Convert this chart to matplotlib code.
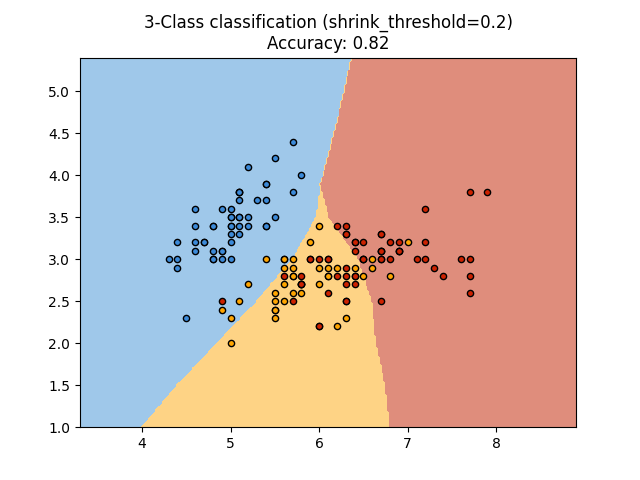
import numpy as np
import matplotlib
matplotlib.use("Agg")
import matplotlib.pyplot as plt
from matplotlib.colors import ListedColormap

setosa = [(5.1,3.5),(4.9,3.0),(4.7,3.2),(4.6,3.1),(5.0,3.6),(5.4,3.9),(4.6,3.4),(5.0,3.4),(4.4,2.9),(4.9,3.1),
(5.4,3.7),(4.8,3.4),(4.8,3.0),(4.3,3.0),(5.8,4.0),(5.7,4.4),(5.4,3.9),(5.1,3.5),(5.7,3.8),(5.1,3.8),
(5.4,3.4),(5.1,3.7),(4.6,3.6),(5.1,3.3),(4.8,3.4),(5.0,3.0),(5.0,3.4),(5.2,3.5),(5.2,3.4),(4.7,3.2),
(4.8,3.1),(5.4,3.4),(5.2,4.1),(5.5,4.2),(4.9,3.1),(5.0,3.2),(5.5,3.5),(4.9,3.6),(4.4,3.0),(5.1,3.4),
(5.0,3.5),(4.5,2.3),(4.4,3.2),(5.0,3.5),(5.1,3.8),(4.8,3.0),(5.1,3.8),(4.6,3.2),(5.3,3.7),(5.0,3.3)]
versicolor = [(7.0,3.2),(6.4,3.2),(6.9,3.1),(5.5,2.3),(6.5,2.8),(5.7,2.8),(6.3,3.3),(4.9,2.4),(6.6,2.9),(5.2,2.7),
(5.0,2.0),(5.9,3.0),(6.0,2.2),(6.1,2.9),(5.6,2.9),(6.7,3.1),(5.6,3.0),(5.8,2.7),(6.2,2.2),(5.6,2.5),
(5.9,3.2),(6.1,2.8),(6.3,2.5),(6.1,2.8),(6.4,2.9),(6.6,3.0),(6.8,2.8),(6.7,3.0),(6.0,2.9),(5.7,2.6),
(5.5,2.4),(5.5,2.4),(5.8,2.7),(6.0,2.7),(5.4,3.0),(6.0,3.4),(6.7,3.1),(6.3,2.3),(5.6,3.0),(5.5,2.5),
(5.5,2.6),(6.1,3.0),(5.8,2.6),(5.0,2.3),(5.6,2.7),(5.7,3.0),(5.7,2.9),(6.2,2.9),(5.1,2.5),(5.7,2.8)]
virginica = [(6.3,3.3),(5.8,2.7),(7.1,3.0),(6.3,2.9),(6.5,3.0),(7.6,3.0),(4.9,2.5),(7.3,2.9),(6.7,2.5),(7.2,3.6),
(6.5,3.2),(6.4,2.7),(6.8,3.0),(5.7,2.5),(5.8,2.8),(6.4,3.2),(6.5,3.0),(7.7,3.8),(7.7,2.6),(6.0,2.2),
(6.9,3.2),(5.6,2.8),(7.7,2.8),(6.3,2.7),(6.7,3.3),(7.2,3.2),(6.2,2.8),(6.1,3.0),(6.4,2.8),(7.2,3.0),
(7.4,2.8),(7.9,3.8),(6.4,2.8),(6.3,2.8),(6.1,2.6),(7.7,3.0),(6.3,3.4),(6.4,3.1),(6.0,3.0),(6.9,3.1),
(6.7,3.1),(6.9,3.1),(5.8,2.7),(6.8,3.2),(6.7,3.3),(6.7,3.0),(6.3,2.5),(6.5,3.0),(6.2,3.4),(5.9,3.0)]

# decision boundaries (x position at given sepal width)
bnd_y = [1.0, 1.5, 2.0, 2.5, 3.0, 3.5, 3.9, 4.6, 5.4]
blue_yellow_x = [4.0, 4.4, 4.85, 5.3, 5.7, 5.97, 6.02, 6.2, 6.37]
yellow_red_x = [6.8, 6.75, 6.65, 6.6, 6.45, 6.12, 6.02, 6.2, 6.37]

light = ListedColormap(["#9fc8ea", "#fed385", "#df8d7c"])
bold = ["#3c8ad8", "#ffa500", "#cc2200"]

xx, yy = np.meshgrid(np.arange(3.3, 8.92, 0.02), np.arange(1.0, 5.42, 0.02))
b1 = np.interp(yy, bnd_y, blue_yellow_x)
b2 = np.interp(yy, bnd_y, yellow_red_x)
Z = np.where(xx < b1, 0, np.where(xx > b2, 2, 1))

fig, ax = plt.subplots(figsize=(6.4, 4.8), dpi=100)
ax.contourf(xx, yy, Z, levels=[-0.5, 0.5, 1.5, 2.5], cmap=light)
for d, c in zip([setosa, versicolor, virginica], bold):
    d = np.array(d)
    ax.scatter(d[:, 0], d[:, 1], c=c, edgecolors="k", s=20)
ax.set_xlim(3.3, 8.9)
ax.set_ylim(1.0, 5.4)
ax.set_title("3-Class classification (shrink_threshold=0.2)\nAccuracy: 0.82")
fig.savefig("out.png")
